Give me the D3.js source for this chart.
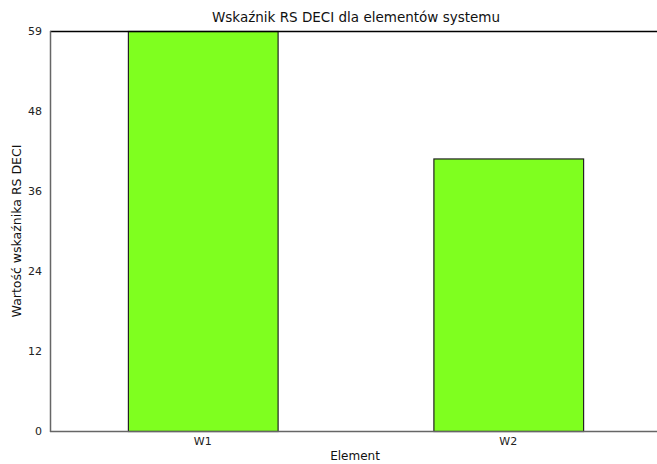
<!DOCTYPE html>
<html><head><meta charset="utf-8">
<script src="https://cdn.jsdelivr.net/npm/d3@7"></script>
<style>body{margin:0;background:#fff;overflow:hidden}svg{display:block;font-family:"DejaVu Sans",Verdana,sans-serif}</style>
</head><body>
<script>
const categories = ["W1", "W2"];
const values = [59, 40.2];
const yTickLabels = ["0", "12", "24", "36", "48", "59"];
const title = "Wskaźnik RS DECI dla elementów systemu";
const xLabel = "Element";
const yLabel = "Wartość wskaźnika RS DECI";

(function () {
const W = 657, H = 464;
const mL = 50, mR = 661, mT = 31, mB = 431;
const yMax = 59;
const svg = d3.select("body").append("svg").attr("width", W).attr("height", H);

const x = d3.scaleBand().domain(categories).range([mL, mR]).padding(0);
const y = d3.scaleLinear().domain([0, yMax]).range([mB, mT]);

const bw = x.bandwidth() * 0.49;
svg.selectAll("rect.bar").data(categories).join("rect")
  .attr("class", "bar")
  .attr("x", d => x(d) + x.bandwidth() / 2 - bw / 2 + 0.5)
  .attr("y", (d, i) => y(values[i]) + 0.5)
  .attr("width", bw)
  .attr("height", (d, i) => y(0) - y(values[i]))
  .attr("fill", "#7fff1f")
  .attr("stroke", "#222")
  .attr("stroke-width", 1.2);

svg.append("line").attr("x1", mL).attr("x2", W).attr("y1", mT + 0.5).attr("y2", mT + 0.5).attr("stroke", "#000").attr("stroke-width", 1.5);
svg.append("line").attr("x1", mL).attr("x2", W).attr("y1", mB + 0.5).attr("y2", mB + 0.5).attr("stroke", "#666").attr("stroke-width", 1.5);
svg.append("line").attr("x1", mL + 0.5).attr("x2", mL + 0.5).attr("y1", mT).attr("y2", mB + 1).attr("stroke", "#666").attr("stroke-width", 1.5);

const tickPos = yTickLabels.map((_, i) => yMax * i / (yTickLabels.length - 1));
const yAxis = d3.axisLeft(y).tickValues(tickPos).tickFormat((d, i) => yTickLabels[i]).tickSize(0).tickPadding(8);
const gy = svg.append("g").attr("transform", `translate(${mL},0)`).call(yAxis);
gy.select(".domain").remove();
gy.selectAll("text").attr("font-size", 11).attr("fill", "#222").attr("font-family", "DejaVu Sans, Verdana, sans-serif");

const xAxis = d3.axisBottom(x).tickSize(0).tickPadding(6);
const gx = svg.append("g").attr("transform", `translate(0,${mB})`).call(xAxis);
gx.select(".domain").remove();
gx.selectAll("text").attr("font-size", 11).attr("fill", "#222").attr("font-family", "DejaVu Sans, Verdana, sans-serif");

svg.append("text").attr("x", 356).attr("y", 22).attr("text-anchor", "middle").attr("font-size", 13.5).attr("fill", "#111").text(title);
svg.append("text").attr("x", 355).attr("y", 460).attr("text-anchor", "middle").attr("font-size", 12).attr("fill", "#111").text(xLabel);
svg.append("text").attr("transform", `translate(21,231) rotate(-90)`).attr("text-anchor", "middle").attr("font-size", 12.5).attr("fill", "#111").text(yLabel);
})();
</script>
</body></html>
